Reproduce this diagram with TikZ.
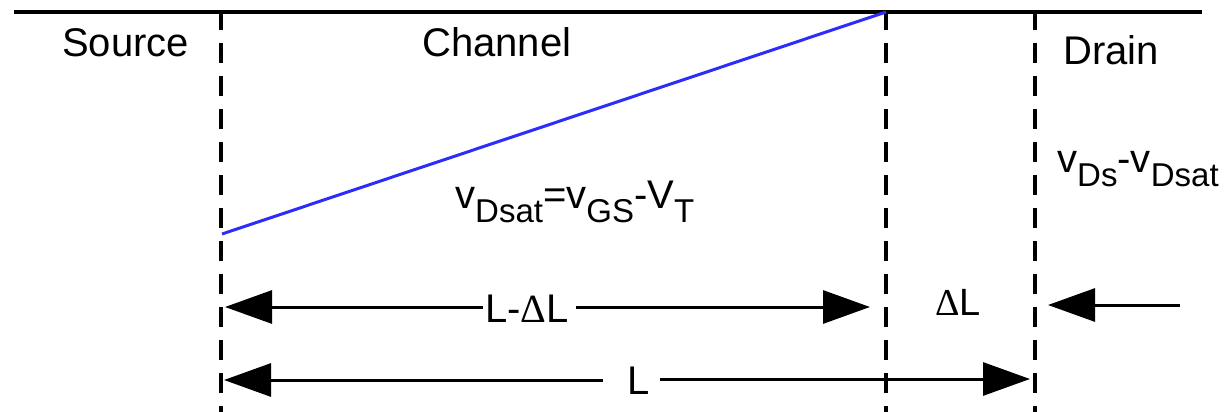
\documentclass[tikz,border=0pt]{standalone}
\usepackage{fontspec}
\setmainfont{Liberation Sans}
\newfontfamily\serifD{Liberation Serif}
\usetikzlibrary{arrows.meta}
\definecolor{blueline}{RGB}{45,45,250}
\newcommand\sbs[1]{\raisebox{-14pt}{\fontsize{33}{33}\selectfont #1}}
\newcommand\Dl{{\serifD\char"0394}}
\begin{document}
\begin{tikzpicture}[x=1pt,y=-1pt,
  lbl/.style={inner sep=0pt,font=\fontsize{40}{48}\selectfont},
  edge/.style={line width=3.2pt},
  divider/.style={line width=3.3pt,dash pattern=on 20pt off 13pt},
  dim/.style={line width=3pt,-{Triangle[length=47pt,width=33pt]}},
  ramp/.style={line width=3pt,blueline}]
\useasboundingbox (0,0) rectangle (1224,412);
% top line
\coordinate (tl) at (14,12);
\coordinate (tr) at (1202,12);
\draw[edge] (tl) -- (tr);
% dividers
\coordinate (d1t) at (221,10); \coordinate (d1b) at (221,412);
\coordinate (d2t) at (886,10); \coordinate (d2b) at (886,412);
\coordinate (d3t) at (1035,10); \coordinate (d3b) at (1035,412);
\draw[divider] (d1t) -- (d1b);
\draw[divider] (d2t) -- (d2b);
\draw[divider] (d3t) -- (d3b);
% blue ramp
\coordinate (rs) at (222,234);
\coordinate (re) at (886,12);
\draw[ramp] (rs) -- (re);
% labels
\node[lbl,anchor=base west] (src) at (62,57) {Source};
\node[lbl,anchor=base west] (chn) at (422,57) {Channel};
\node[lbl,anchor=base west] (drn) at (1063,65) {Drain};
\node[lbl,anchor=base west] (vds) at (455,208) {v\sbs{Dsat}=v\sbs{GS}-V\sbs{T}};
\node[lbl,anchor=base west] (vdd) at (1057,172) {v\sbs{Ds}-v\sbs{Dsat}};
% row 1
\coordinate (s1) at (225,307);
\coordinate (c1) at (870,307);
\coordinate (e1) at (1180,305);
\coordinate (t1) at (1048,305);
\node[lbl,anchor=base west] (ldl) at (485,322) {L-\Dl L};
\node[lbl,anchor=base west,font=\fontsize{38}{46}\selectfont] (dl) at (935,315) {\Dl L};
\draw[dim] (ldl.west |- s1) ++(-2,0) -- (s1);
\draw[dim] (ldl.east |- c1) ++(7,0) -- (c1);
\draw[dim] (e1) -- (t1);
% row 2
\coordinate (s2) at (224,380);
\coordinate (c2) at (1030,379);
\node[lbl,anchor=base west] (ll) at (627,394) {L};
\draw[dim] (ll.west |- s2) ++(-24,0) -- (s2);
\draw[dim] (ll.east |- c2) ++(10,0) -- (c2);
\end{tikzpicture}
\end{document}
